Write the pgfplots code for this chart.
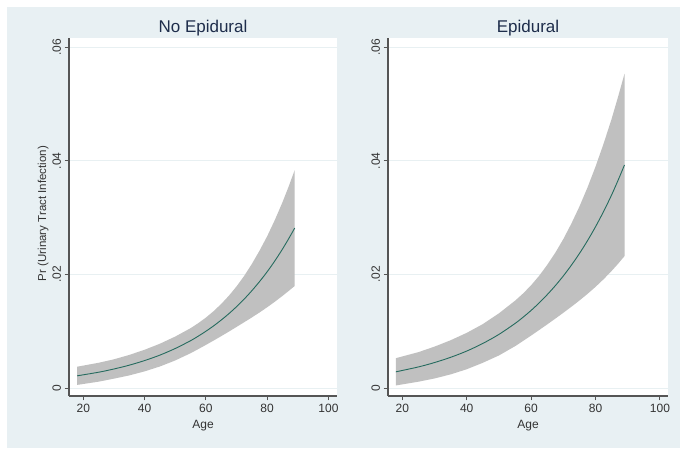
\documentclass[border=0pt]{standalone}
\usepackage{pgfplots}
\pgfplotsset{compat=1.18}
\usepackage{fontspec}
\setmainfont{Liberation Sans}
\definecolor{bgc}{RGB}{232,240,243}
\definecolor{gridc}{RGB}{232,240,242}
\definecolor{bandc}{RGB}{192,192,192}
\definecolor{linec}{RGB}{38,107,95}
\definecolor{axisc}{RGB}{85,85,85}
\definecolor{titlec}{RGB}{30,45,75}
\pgfplotsset{
  panel/.style={
    scale only axis, anchor=south west,
    height=358pt,
    axis background/.style={fill=white},
    axis x line*=bottom, axis y line*=left,
    axis line style={draw=axisc, line width=1.2pt, -},
    ymin=-0.00135, ymax=0.0616,
    xtick={20,40,60,80,100},
    ytick={0,0.02,0.04,0.06},
    yticklabels={0,.02,.04,.06},
    scaled y ticks=false,
    tick align=outside, major tick length=4.5pt,
    tick style={draw=axisc, line width=1pt},
    ymajorgrids, grid style={draw=gridc, line width=0.8pt},
    /pgf/number format/assume math mode=true,
    tick label style={font=\fontsize{12}{14}\selectfont, text=black!80},
    yticklabel style={rotate=90, anchor=south},
  }
}
\begin{document}
\begin{tikzpicture}[x=1pt,y=1pt]
\fill[white] (0,0) rectangle (682,454);
\fill[bgc] (7,6) rectangle (680,447);
\begin{axis}[panel, at={(69pt,58pt)}, width=268pt, xmin=15.33, xmax=102.8]
% 95% CI band: upper bound (left to right), then lower bound (right to left)
\addplot[fill=bandc, draw=none] coordinates {
(18,0.00380) (25,0.00449) (30,0.00510) (35,0.00587) (40,0.00678) (45,0.00784)
(50,0.00910) (55,0.01057) (57.5,0.01145) (60,0.01243) (62.5,0.01355) (65,0.01483)
(67.5,0.01627) (70,0.01791) (72.5,0.01976) (75,0.02186) (77.5,0.02419) (80,0.02673)
(82.5,0.02958) (85,0.03271) (87,0.03545) (89,0.03838)
(89,0.01800) (87,0.01711) (85,0.01625) (82.5,0.01522) (80,0.01425) (77.5,0.01333)
(75,0.01246) (72.5,0.01162) (70,0.01079) (67.5,0.00997) (65,0.00917) (62.5,0.00839)
(60,0.00763) (57.5,0.00689) (55,0.00617) (50,0.00490) (45,0.00384) (40,0.00298)
(35,0.00227) (30,0.00170) (25,0.00117) (18,0.00060)
} -- cycle;
\addplot[draw=linec, line width=0.9pt, smooth] coordinates {
(18,0.00220) (25,0.00283) (30,0.00340) (35,0.00407) (40,0.00488) (45,0.00584)
(50,0.00700) (55,0.00837) (57.5,0.00917) (60,0.01003) (62.5,0.01097) (65,0.01200)
(67.5,0.01312) (70,0.01435) (72.5,0.01569) (75,0.01716) (77.5,0.01876) (80,0.02049)
(82.5,0.02240) (85,0.02448) (87,0.02628) (89,0.02819)
};
\end{axis}
\begin{axis}[panel, at={(388pt,58pt)}, width=280.3pt, xmin=15.56, xmax=102.6]
\addplot[fill=bandc, draw=none] coordinates {
(18,0.00530) (25,0.00636) (30,0.00733) (35,0.00845) (40,0.00975) (45,0.01129)
(50,0.01318) (55,0.01540) (57.5,0.01667) (60,0.01812) (62.5,0.01979) (65,0.02170)
(67.5,0.02383) (70,0.02624) (72.5,0.02896) (75,0.03196) (77.5,0.03530) (80,0.03898)
(82.5,0.04300) (85,0.04738) (87,0.05126) (89,0.05531)
(89,0.02325) (87,0.02190) (85,0.02064) (82.5,0.01918) (80,0.01784) (77.5,0.01660)
(75,0.01544) (72.5,0.01434) (70,0.01328) (67.5,0.01225) (65,0.01124) (62.5,0.01025)
(60,0.00928) (57.5,0.00833) (55,0.00740) (50,0.00578) (45,0.00449) (40,0.00335)
(35,0.00245) (30,0.00173) (25,0.00116) (18,0.00050)
} -- cycle;
\addplot[draw=linec, line width=0.9pt, smooth] coordinates {
(18,0.00290) (25,0.00376) (30,0.00453) (35,0.00545) (40,0.00655) (45,0.00789)
(50,0.00948) (55,0.01140) (57.5,0.01250) (60,0.01370) (62.5,0.01502) (65,0.01647)
(67.5,0.01804) (70,0.01976) (72.5,0.02165) (75,0.02370) (77.5,0.02595) (80,0.02841)
(82.5,0.03109) (85,0.03401) (87,0.03658) (89,0.03928)
};
\end{axis}
\node[anchor=base, text=titlec, font=\fontsize{17}{20}\selectfont] at (203,421.3) {No Epidural};
\node[anchor=base, text=titlec, font=\fontsize{17}{20}\selectfont] at (528,421.3) {Epidural};
\node[anchor=base, font=\fontsize{12}{14}\selectfont, text=black!80] at (203,25.7) {Age};
\node[anchor=base, font=\fontsize{12}{14}\selectfont, text=black!80] at (528,25.7) {Age};
\node[anchor=base, rotate=90, font=\fontsize{11.5}{13}\selectfont, text=black!80] at (46,240.5) {Pr (Urinary Tract Infection)};
\end{tikzpicture}
\end{document}
